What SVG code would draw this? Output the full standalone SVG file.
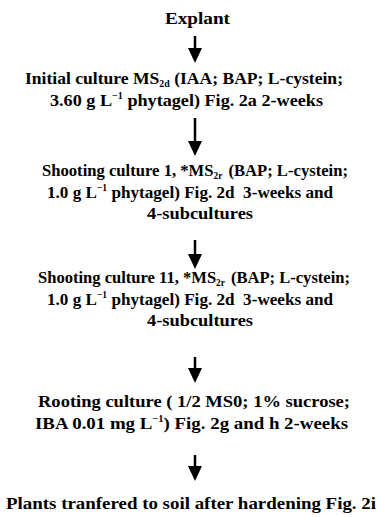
<svg xmlns="http://www.w3.org/2000/svg" width="379" height="517" viewBox="0 0 379 517">
<style>
text{font-family:"Liberation Serif","Times New Roman",Times,serif;font-size:17px;font-weight:bold;fill:#000;text-anchor:middle}
.s{font-size:9.5px}
.c{stroke:#000;stroke-width:2.5;fill:none}
</style>
<defs>
<marker id="ah" viewBox="0 0 15 14" refX="5" refY="7" markerWidth="15" markerHeight="14" markerUnits="userSpaceOnUse" orient="auto">
<path d="M0,0 L15,7 L0,14 Z" fill="#000"/>
</marker>
</defs>
<rect width="379" height="517" fill="#fff"/>
<g id="n1"><text x="197.5" y="24" textLength="65" lengthAdjust="spacingAndGlyphs">Explant</text></g>
<g id="n2">
<text x="184" y="84" textLength="318" lengthAdjust="spacingAndGlyphs">Initial culture MS<tspan class="s" dy="3">2d</tspan><tspan dy="-3"> (IAA; BAP; L-cystein;</tspan></text>
<text x="186.5" y="106" textLength="273" lengthAdjust="spacingAndGlyphs">3.60 g L<tspan class="s" dy="-7">−1</tspan><tspan dy="7"> phytagel) Fig. 2a 2-weeks</tspan></text>
</g>
<g id="n3">
<text x="195" y="176" textLength="306" lengthAdjust="spacingAndGlyphs">Shooting culture 1, *MS<tspan class="s" dy="3">2r</tspan><tspan dx="2" dy="-3"> (BAP; L-cystein;</tspan></text>
<text x="190" y="198" textLength="286" lengthAdjust="spacingAndGlyphs">1.0 g L<tspan class="s" dy="-7">−1</tspan><tspan dy="7"> phytagel) Fig. 2d&#160; 3-weeks and</tspan></text>
<text x="200" y="219" textLength="106" lengthAdjust="spacingAndGlyphs">4-subcultures</text>
</g>
<g id="n4">
<text x="194" y="283" textLength="312" lengthAdjust="spacingAndGlyphs">Shooting culture 11, *MS<tspan class="s" dy="3">2r</tspan><tspan dx="2" dy="-3"> (BAP; L-cystein;</tspan></text>
<text x="190" y="305" textLength="286" lengthAdjust="spacingAndGlyphs">1.0 g L<tspan class="s" dy="-7">−1</tspan><tspan dy="7"> phytagel) Fig. 2d&#160; 3-weeks and</tspan></text>
<text x="200" y="326" textLength="106" lengthAdjust="spacingAndGlyphs">4-subcultures</text>
</g>
<g id="n5">
<text x="194" y="407" textLength="312" lengthAdjust="spacingAndGlyphs">Rooting culture ( 1/2 MS0; 1% sucrose;</text>
<text x="191.5" y="429" textLength="313" lengthAdjust="spacingAndGlyphs">IBA 0.01 mg L<tspan class="s" dy="-7">−1</tspan><tspan dy="7">) Fig. 2g and h 2-weeks</tspan></text>
</g>
<g id="n6"><text x="191" y="509" textLength="370" lengthAdjust="spacingAndGlyphs">Plants tranfered to soil after hardening Fig. 2i</text></g>
<g id="connectors">
<line class="c" x1="195" y1="36" x2="195" y2="53" marker-end="url(#ah)"/>
<line class="c" x1="195" y1="118" x2="195" y2="146" marker-end="url(#ah)"/>
<line class="c" x1="195" y1="240" x2="195" y2="259" marker-end="url(#ah)"/>
<line class="c" x1="195" y1="357" x2="195" y2="373" marker-end="url(#ah)"/>
<line class="c" x1="195" y1="455" x2="195" y2="471" marker-end="url(#ah)"/>
</g>
</svg>
